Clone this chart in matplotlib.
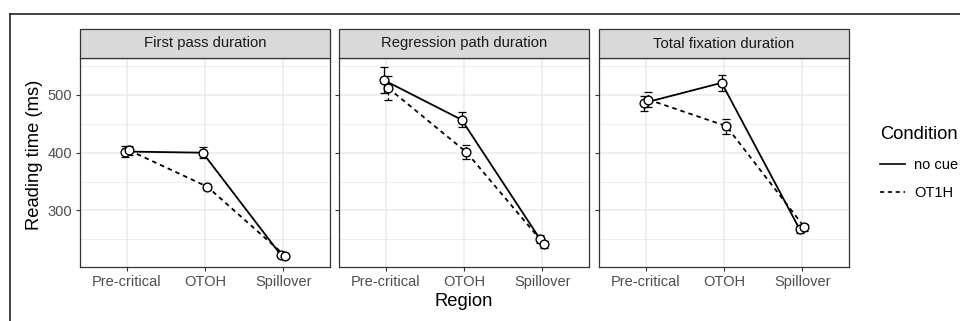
import numpy as np
import matplotlib.pyplot as plt
from matplotlib.lines import Line2D
from matplotlib.patches import Rectangle

plt.rcParams['font.family'] = ['Liberation Sans', 'DejaVu Sans']

# datos
regiones = ['Pre-critical', 'OTOH', 'Spillover']
paneles = ['First pass duration', 'Regression path duration', 'Total fixation duration']
condiciones = ['no cue', 'OT1H']

# medias (ms) por panel: [no cue, OT1H]
fp_nocue = [402, 400, 223]
fp_ot1h = [404, 341, 221]
rp_nocue = [526, 457, 251]
rp_ot1h = [512, 401, 241]
tf_nocue = [486, 521, 267]
tf_ot1h = [492, 446, 271]

# errores estandar
fp_nocue_se = [10, 9, 3]
fp_ot1h_se = [8, 5, 3]
rp_nocue_se = [23, 13, 7]
rp_ot1h_se = [21, 12, 6]
tf_nocue_se = [13, 14, 6]
tf_ot1h_se = [13, 13, 6]

medias = [(fp_nocue, fp_ot1h), (rp_nocue, rp_ot1h), (tf_nocue, tf_ot1h)]
errores = [(fp_nocue_se, fp_ot1h_se), (rp_nocue_se, rp_ot1h_se), (tf_nocue_se, tf_ot1h_se)]

W, H = 960, 321
fig = plt.figure(figsize=(9.6, 3.21), dpi=100)

estilos = ['-', (0, (2.5, 2.2))]
desplaz = [-0.03, 0.03]
x = np.arange(1, 4)

izq = [80, 339, 599]
ancho = 250
arriba, abajo, tira = 58, 267, 29

for i, panel in enumerate(paneles):
    ax = fig.add_axes([izq[i] / W, 1 - abajo / H, ancho / W, (abajo - arriba) / H])
    ax.set_xlim(0.4, 3.6)
    ax.set_ylim(202, 564)
    # cuadricula estilo theme_bw
    for v in [250, 350, 450, 550]:
        ax.axhline(v, color='#EBEBEB', lw=0.6, zorder=0)
    for v in [300, 400, 500]:
        ax.axhline(v, color='#EBEBEB', lw=1.1, zorder=0)
    for v in x:
        ax.axvline(v, color='#EBEBEB', lw=1.1, zorder=0)
    for j in range(2):
        xs = x + desplaz[j]
        ax.plot(xs, medias[i][j], color='black', lw=1.3, ls=estilos[j], zorder=2)
        eb = ax.errorbar(xs, medias[i][j], yerr=errores[i][j], fmt='none', ecolor='black',
                         elinewidth=0.9, capsize=3.0, capthick=0.9, zorder=3)
        if j == 1:
            eb[2][0].set_linestyle((0, (2, 2)))
        ax.plot(xs, medias[i][j], 'o', ms=6.3, mfc='white', mec='black', mew=1.0, zorder=4)
    ax.set_xticks(x)
    ax.set_xticklabels(regiones)
    ax.set_yticks([300, 400, 500])
    if i > 0:
        ax.set_yticklabels([])
    ax.tick_params(labelsize=10.5, labelcolor='#4D4D4D', color='#333333', length=3, width=0.8, pad=2.5)
    for s in ax.spines.values():
        s.set_color('#333333')
        s.set_linewidth(0.9)
    # tira del facet
    fig.patches.append(Rectangle((izq[i] / W, 1 - arriba / H), ancho / W, tira / H,
                                 transform=fig.transFigure, facecolor='#D9D9D9',
                                 edgecolor='#333333', lw=0.9))
    fig.text((izq[i] + ancho / 2) / W, 1 - (arriba - tira / 2) / H, panel, ha='center', va='center',
             fontsize=10.7, color='#1A1A1A')

fig.text(464 / W, 1 - 302 / H, 'Region', ha='center', va='center', fontsize=13.2)
fig.text(35 / W, 1 - 155 / H, 'Reading time (ms)', ha='center', va='center', rotation=90, fontsize=13.2)

# leyenda
manijas = [Line2D([], [], color='black', lw=1.2, ls=estilos[0]),
           Line2D([], [], color='black', lw=1.2, ls=estilos[1])]
leg = fig.legend(manijas, condiciones, title='Condition', loc='upper left',
                 bbox_to_anchor=(867 / W, 1 - 113 / H), frameon=False, fontsize=10.5,
                 title_fontsize=13.2, handlelength=1.7, handletextpad=0.65, labelspacing=1.0,
                 alignment='left')

# marco superior e izquierdo
fig.add_artist(Line2D([10 / W, 1], [1 - 14 / H, 1 - 14 / H], color='#222222', lw=1.2,
                      transform=fig.transFigure))
fig.add_artist(Line2D([10 / W, 10 / W], [0, 1 - 14 / H], color='#222222', lw=1.2,
                      transform=fig.transFigure))

fig.savefig('out.png', dpi=100)
